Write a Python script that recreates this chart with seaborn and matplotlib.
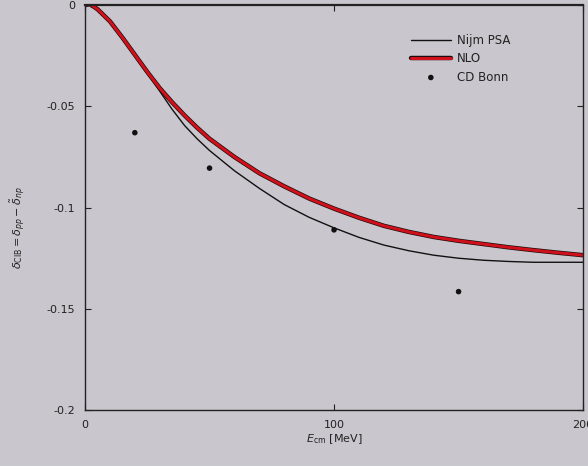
import matplotlib
matplotlib.use("Agg")
import matplotlib.pyplot as plt
import matplotlib.patheffects as pe
import seaborn as sns
import pandas as pd

# Data
E_curve = [0, 2, 5, 10, 15, 20, 25, 30, 35, 40, 45, 50, 60, 70, 80, 90, 100,
           110, 120, 130, 140, 150, 160, 170, 180, 190, 200]
nlo = [0.0, 0.0005, -0.002, -0.008, -0.016, -0.0245, -0.033, -0.041, -0.048,
       -0.0545, -0.0605, -0.066, -0.075, -0.083, -0.0895, -0.0955, -0.1005,
       -0.1050, -0.109, -0.112, -0.1145, -0.1164, -0.118, -0.1196, -0.121,
       -0.1223, -0.1235]
nijm = [0.0, 0.0005, -0.002, -0.008, -0.016, -0.0245, -0.0335, -0.0425, -0.0515,
        -0.0595, -0.066, -0.0718, -0.0818, -0.0905, -0.0985, -0.1048, -0.1100,
        -0.1147, -0.1185, -0.1213, -0.1235, -0.125, -0.126, -0.1266, -0.127,
        -0.127, -0.127]
E_bonn = [3, 20, 50, 100, 150]
bonn = [0.0, -0.063, -0.0805, -0.111, -0.1415]

x_ticks = [0, 100, 200]
x_ticklabels = ["0", "100", "200"]
y_ticks = [0, -0.05, -0.1, -0.15, -0.2]
y_ticklabels = ["0", "-0.05", "-0.1", "-0.15", "-0.2"]

bg = "#c9c6cd"
sns.set_style("ticks")
plt.rcParams["font.family"] = ["DejaVu Sans"]

fig = plt.figure(figsize=(5.88, 4.66), dpi=100, facecolor=bg)
ax = fig.add_axes([0.1446, 0.120, 0.847, 0.869])
ax.set_facecolor(bg)

df_curves = pd.DataFrame({"E": E_curve, "nlo": nlo, "nijm": nijm})
df_bonn = pd.DataFrame({"E": E_bonn, "v": bonn})

sns.lineplot(data=df_curves, x="E", y="nijm", ax=ax, color="#111111", lw=1.0,
             label="Nijm PSA")
sns.lineplot(data=df_curves, x="E", y="nlo", ax=ax, color="#d0101a", lw=2.2,
             label="NLO",
             path_effects=[pe.Stroke(linewidth=3.2, foreground="#1a0a0a"), pe.Normal()])
sns.scatterplot(data=df_bonn, x="E", y="v", ax=ax, color="#111111", s=16,
                edgecolor="none", label="CD Bonn")

ax.set_xlim(0, 200)
ax.set_ylim(-0.2, 0)
ax.set_xticks(x_ticks)
ax.set_xticklabels(x_ticklabels)
ax.set_yticks(y_ticks)
ax.set_yticklabels(y_ticklabels)
ax.tick_params(direction="in", length=4, width=0.8, labelsize=8, colors="#222222",
               top=True, right=True, pad=7)
for s in ax.spines.values():
    s.set_color("#222222")
    s.set_linewidth(1.0)
ax.spines["top"].set_linewidth(1.6)

ax.set_xlabel(r"$E_{\rm cm}$ [MeV]", fontsize=8, color="#222222", labelpad=2)
ax.set_ylabel(r"$\delta_{\rm CIB}=\delta_{pp}-\tilde{\delta}_{np}$", fontsize=8,
              color="#222222")
ax.yaxis.set_label_coords(-0.115, 0.45)

leg = ax.legend(loc="upper right", bbox_to_anchor=(0.875, 0.955), frameon=False,
                fontsize=8.5, handlelength=3.4, handletextpad=0.5, labelspacing=0.45)
for t in leg.get_texts():
    t.set_color("#222222")

fig.savefig("out.png", dpi=100, facecolor=bg)
